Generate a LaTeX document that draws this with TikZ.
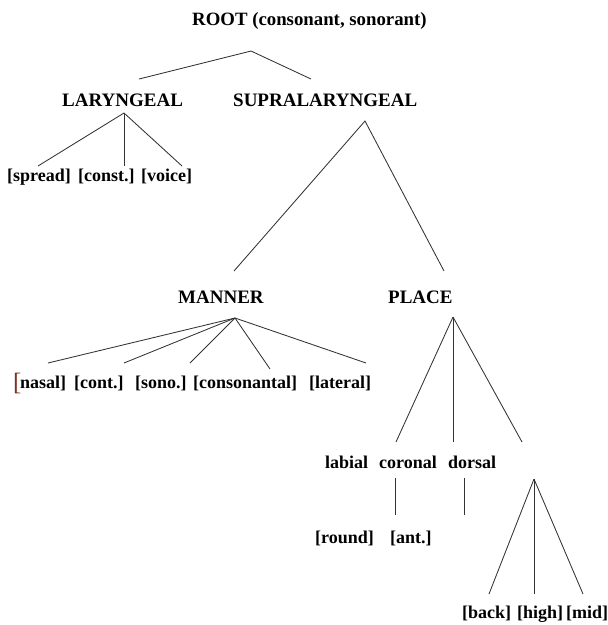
\documentclass[tikz,border=0pt]{standalone}
\usepackage{fontspec}
\setmainfont{Liberation Serif}
\begin{document}
\begin{tikzpicture}[x=1pt,y=-1pt,
  lbl/.style={anchor=base west, inner sep=0pt, font=\fontsize{18}{20}\selectfont\bfseries},
  head/.style={lbl, font=\fontsize{19}{21}\selectfont\bfseries},
  branch/.style={draw=black!80, line width=0.85pt}]
\useasboundingbox (0,0) rectangle (608,625);

% feature labels
\node[head, font=\fontsize{18.8}{21}\selectfont\bfseries] (root) at (192,25) {ROOT (consonant, sonorant)};
\node[head] (lar) at (62,106) {LARYNGEAL};
\node[head] (supra) at (233,106) {SUPRALARYNGEAL};
\node[lbl] (spread) at (7,181) {[spread]};
\node[lbl] (const) at (78,181) {[const.]};
\node[lbl] (voice) at (141,181) {[voice]};
\node[head] (manner) at (178,303) {MANNER};
\node[head] (place) at (388,303) {PLACE};
\node[anchor=base west, inner sep=0pt, text={rgb,255:red,130;green,45;blue,30},
      font=\fontsize{25}{27}\selectfont] (nasalbr) at (13,390) {[};
\node[lbl] (nasal) at (20,388) {nasal]};
\node[lbl] (cont) at (74,388) {[cont.]};
\node[lbl] (sono) at (135,388) {[sono.]};
\node[lbl] (cons) at (193,388) {[consonantal]};
\node[lbl] (lat) at (309,388) {[lateral]};
\node[lbl] (labial) at (325,468) {labial};
\node[lbl] (coronal) at (379,468) {coronal};
\node[lbl] (dorsal) at (448,468) {dorsal};
\node[lbl] (round) at (315,543) {[round]};
\node[lbl] (ant) at (390,543) {[ant.]};
\node[lbl] (back) at (462,618) {[back]};
\node[lbl] (high) at (517,618) {[high]};
\node[lbl] (mid) at (566,618) {[mid]};

% branch points and branch ends
\coordinate (root-fork) at (251,51);
\coordinate (root-l) at (139,79);
\coordinate (root-r) at (311,79);
\coordinate (lar-fork) at (124,113);
\coordinate (lar-1) at (38,166);
\coordinate (lar-2) at (124,166);
\coordinate (lar-3) at (182,166);
\coordinate (supra-fork) at (365,121);
\coordinate (supra-l) at (234,271);
\coordinate (supra-r) at (444,271);
\coordinate (man-fork) at (235,318);
\coordinate (man-1) at (48,363);
\coordinate (man-2) at (124,363);
\coordinate (man-3) at (190,363);
\coordinate (man-4) at (270,369);
\coordinate (man-5) at (366,363);
\coordinate (pl-fork) at (453,317);
\coordinate (pl-1) at (396,442);
\coordinate (pl-2) at (453,442);
\coordinate (pl-3) at (522,442);
\coordinate (cor-top) at (395,478);
\coordinate (cor-bot) at (395,515);
\coordinate (dor-top) at (464,478);
\coordinate (dor-bot) at (464,515);
\coordinate (tongue-fork) at (534,479);
\coordinate (tongue-1) at (489,594);
\coordinate (tongue-2) at (534,594);
\coordinate (tongue-3) at (583,594);

% tree branches
\draw[branch] (root-l) -- (root-fork) -- (root-r);
\foreach \e in {lar-1,lar-2,lar-3} \draw[branch] (lar-fork) -- (\e);
\draw[branch] (supra-l) -- (supra-fork) -- (supra-r);
\foreach \e in {man-1,man-2,man-3,man-4,man-5} \draw[branch] (man-fork) -- (\e);
\foreach \e in {pl-1,pl-2,pl-3} \draw[branch] (pl-fork) -- (\e);
\draw[branch] (cor-top) -- (cor-bot);
\draw[branch] (dor-top) -- (dor-bot);
\foreach \e in {tongue-1,tongue-2,tongue-3} \draw[branch] (tongue-fork) -- (\e);
\end{tikzpicture}
\end{document}
